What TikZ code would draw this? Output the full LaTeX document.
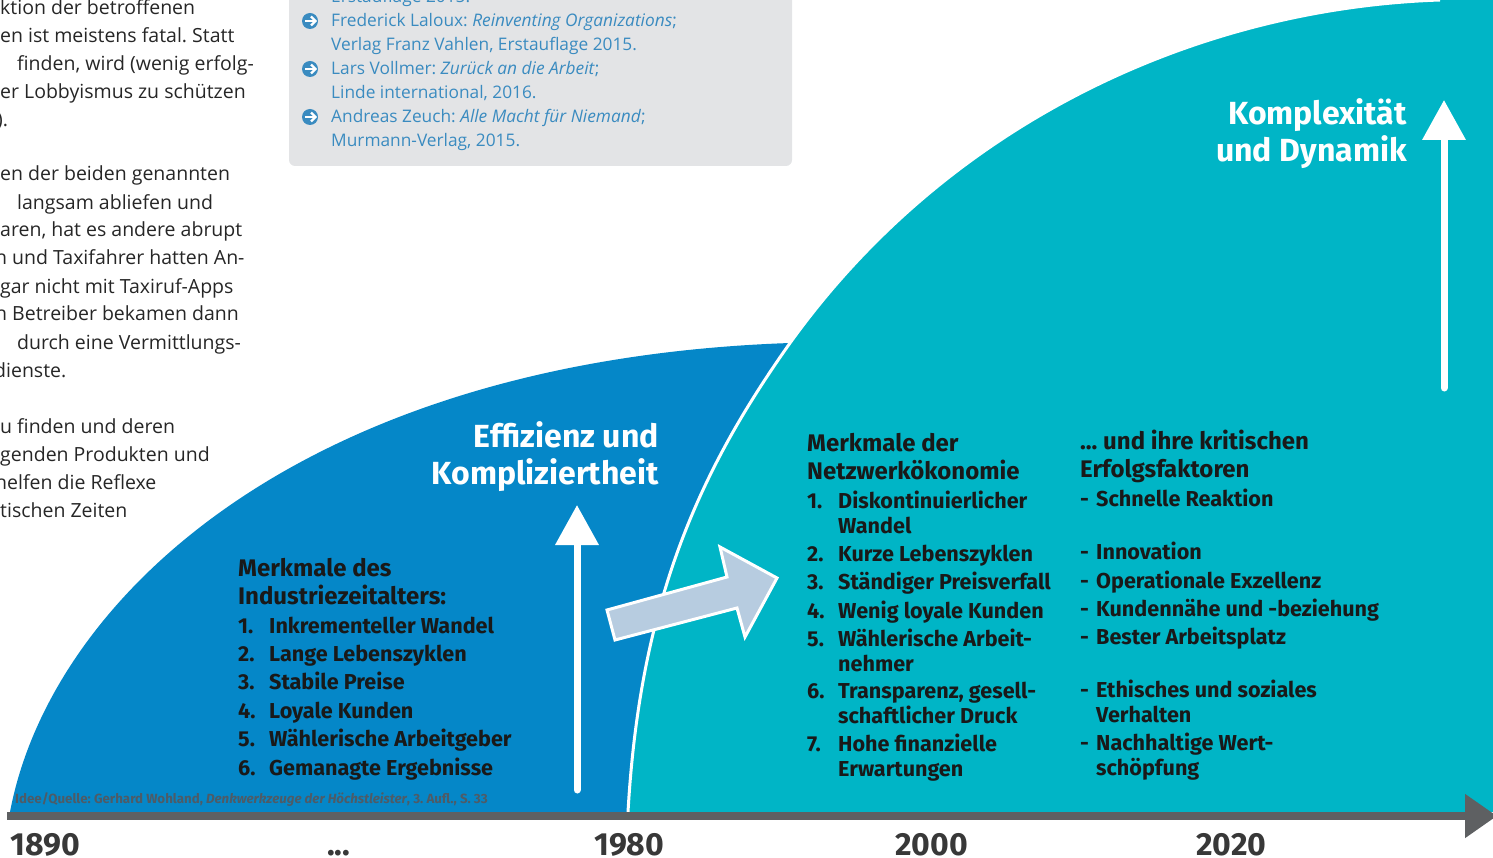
\documentclass[tikz,border=0pt]{standalone}
\usepackage{fontspec}
\setmainfont{Open Sans}
\newfontfamily\diafont{Fira Sans}
\usetikzlibrary{arrows.meta}
\frenchspacing

\definecolor{dunkelblau}{HTML}{0587C8}
\definecolor{tuerkis}{HTML}{00B5C6}
\definecolor{hellblau}{HTML}{B7CCE0}
\definecolor{achsgrau}{HTML}{5E6062}
\definecolor{kastengrau}{HTML}{E3E4E6}
\definecolor{linkblau}{HTML}{3A8BC0}
\definecolor{quellgrau}{HTML}{4E5B66}

\begin{document}
\begin{tikzpicture}[x=1pt,y=-1pt]
	% mehrzeilige Knoten: Position = Grundlinie der letzten Zeile
	\tikzstyle{fliess} = [anchor=base west,inner sep=0,align=left,font=\fontsize{19.5}{28}\selectfont,text=black!85]
	\tikzstyle{buch} = [anchor=base west,inner sep=0,align=left,font=\fontsize{17.3}{24}\selectfont,text=linkblau]
	\tikzstyle{kopf} = [anchor=base west,inner sep=0,align=left,font=\diafont\bfseries\fontsize{24}{28}\selectfont,text=black!90]
	\tikzstyle{punkt} = [anchor=base west,inner sep=0,align=left,font=\diafont\bfseries\fontsize{21.6}{25}\selectfont,text=black!90]
	\tikzstyle{titel} = [anchor=base east,inner sep=0,align=right,font=\diafont\bfseries\fontsize{32}{37}\selectfont,text=white]
	\tikzstyle{jahr} = [anchor=base west,inner sep=0,font=\diafont\bfseries\fontsize{32}{32}\selectfont,text=black!78]
	\tikzstyle{quelle} = [anchor=base west,inner sep=0,font=\diafont\bfseries\fontsize{13.3}{13}\selectfont,text=quellgrau]
	\tikzstyle{pfeil} = [draw=white,line width=7,line cap=round,-{Triangle[width=42pt,length=40pt]}]
	\tikzstyle{achse} = [draw=achsgrau,line width=8,-{Triangle[width=42pt,length=32pt]}]

	\useasboundingbox (0,0) rectangle (1493,858);

	% Textspalte links (angeschnitten)
	\node[fliess] (p1) at (0,127) {ktion der betroffenen\\en ist meistens fatal. Statt\\\hspace*{17pt}finden, wird (wenig erfolg-\\er Lobbyismus zu schützen\\\hspace*{-3pt}).};
	\node[fliess] (p2) at (0,377) {en der beiden genannten\\\hspace*{17pt}langsam abliefen und\\aren, hat es andere abrupt\\\hspace*{-5pt}n und Taxifahrer hatten An-\\gar nicht mit Taxiruf-Apps\\\hspace*{-5pt}n Betreiber bekamen dann\\\hspace*{17pt}durch eine Vermittlungs-\\\hspace*{-6pt}dienste.};
	\node[fliess] (p3) at (0,517) {u finden und deren\\genden Produkten und\\\hspace*{-5pt}helfen die Reflexe\\tischen Zeiten};

	% Literaturkasten
	\fill[kastengrau,rounded corners=6] (289,-10) rectangle (792,166);
	\foreach \y in {21,69,117}{
		\fill[linkblau] (310,\y) circle (8);
		\draw[white,line width=2.2] (305,\y) -- (315,\y);
		\draw[white,line width=2.2,line join=miter] (311,\y-4.5) -- (315.5,\y) -- (311,\y+4.5);
	}
	\node[buch] (b0) at (331,3) {Erstauflage 2015.};
	\node[buch] (b1) at (331,51) {Frederick Laloux: \textit{Reinventing Organizations};\\Verlag Franz Vahlen, Erstauflage 2015.};
	\node[buch] (b2) at (331,99) {Lars Vollmer: \textit{Zurück an die Arbeit};\\Linde international, 2016.};
	\node[buch] (b3) at (331,147) {Andreas Zeuch: \textit{Alle Macht für Niemand};\\Murmann-Verlag, 2015.};

	% Flaechen
	\fill[dunkelblau] (10,812) .. controls (50,600) and (300,360) .. (790,343) -- (790,812) -- cycle;
	\fill[tuerkis] (628,812) .. controls (640,600) and (700,470) .. (790,343) .. controls (950,120) and (1200,8) .. (1440,0) -- (1493,0) -- (1493,812) -- cycle;
	\draw[white,line width=3] (628,812) .. controls (640,600) and (700,470) .. (790,343) .. controls (950,120) and (1200,8) .. (1440,0);

	% Uebergangspfeil
	\filldraw[fill=hellblau,draw=white,line width=3,line join=miter] (607,610) -- (727,577) -- (720,547) -- (777,578) -- (745,637) -- (737,608) -- (615,640) -- cycle;

	% Pfeile nach oben
	\coordinate (e0) at (577,790);
	\coordinate (e1) at (577,505);
	\coordinate (k0) at (1444,388);
	\coordinate (k1) at (1444,100);
	\draw[pfeil] (e0) -- (e1);
	\draw[pfeil] (k0) -- (k1);

	\node[titel] (eff) at (659,484) {Effizienz und\\Kompliziertheit};
	\node[titel] (kom) at (1407,162) {Komplexität\\und Dynamik};

	% Industriezeitalter
	\node[kopf] (ind) at (238,604) {Merkmale des\\Industriezeitalters:};
	\node[punkt] (i1) at (238,633) {1.};
	\node[punkt] (i1t) at (269,633) {Inkrementeller Wandel};
	\node[punkt] (i2) at (238,661) {2.};
	\node[punkt] (i2t) at (269,661) {Lange Lebenszyklen};
	\node[punkt] (i3) at (238,689) {3.};
	\node[punkt] (i3t) at (269,689) {Stabile Preise};
	\node[punkt] (i4) at (238,718) {4.};
	\node[punkt] (i4t) at (269,718) {Loyale Kunden};
	\node[punkt] (i5) at (238,746) {5.};
	\node[punkt] (i5t) at (269,746) {Wählerische Arbeitgeber};
	\node[punkt] (i6) at (238,775) {6.};
	\node[punkt] (i6t) at (269,775) {Gemanagte Ergebnisse};

	% Netzwerkoekonomie
	\node[kopf] (net) at (807,479) {Merkmale der\\Netzwerkökonomie};
	\node[punkt] (n1) at (807,508) {1.};
	\node[punkt] (n1t) at (838,533) {Diskontinuierlicher\\Wandel};
	\node[punkt] (n2) at (807,561) {2.};
	\node[punkt] (n2t) at (838,561) {Kurze Lebenszyklen};
	\node[punkt] (n3) at (807,589) {3.};
	\node[punkt] (n3t) at (838,589) {Ständiger Preisverfall};
	\node[punkt] (n4) at (807,618) {4.};
	\node[punkt] (n4t) at (838,618) {Wenig loyale Kunden};
	\node[punkt] (n5) at (807,646) {5.};
	\node[punkt] (n5t) at (838,671) {Wählerische Arbeit-\\nehmer};
	\node[punkt] (n6) at (807,698) {6.};
	\node[punkt] (n6t) at (838,723) {Transparenz, gesell-\\schaftlicher Druck};
	\node[punkt] (n7) at (807,751) {7.};
	\node[punkt] (n7t) at (838,776) {Hohe finanzielle\\Erwartungen};

	% Erfolgsfaktoren
	\node[kopf] (erf) at (1080,477) {... und ihre kritischen\\Erfolgsfaktoren};
	\node[punkt] (f1) at (1080,506) {-};
	\node[punkt] (f1t) at (1096,506) {Schnelle Reaktion};
	\node[punkt] (f2) at (1080,559) {-};
	\node[punkt] (f2t) at (1096,559) {Innovation};
	\node[punkt] (f3) at (1080,588) {-};
	\node[punkt] (f3t) at (1096,588) {Operationale Exzellenz};
	\node[punkt] (f4) at (1080,616) {-};
	\node[punkt] (f4t) at (1096,616) {Kundennähe und -beziehung};
	\node[punkt] (f5) at (1080,644) {-};
	\node[punkt] (f5t) at (1096,644) {Bester Arbeitsplatz};
	\node[punkt] (f6) at (1080,697) {-};
	\node[punkt] (f6t) at (1096,722) {Ethisches und soziales\\Verhalten};
	\node[punkt] (f7) at (1080,750) {-};
	\node[punkt] (f7t) at (1096,775) {Nachhaltige Wert-\\schöpfung};

	\node[quelle] (src) at (15,803) {Idee/Quelle: Gerhard Wohland, \textit{Denkwerkzeuge der Höchstleister}, 3. Aufl., S. 33};

	% Zeitachse
	\coordinate (t0) at (7,816);
	\coordinate (t1) at (1497,816);
	\draw[achse] (t0) -- (t1);
	\node[jahr] (y1) at (10,855) {1890};
	\node[jahr] (y2) at (327,855) {...};
	\node[jahr] (y3) at (594,855) {1980};
	\node[jahr] (y4) at (895,855) {2000};
	\node[jahr] (y5) at (1196,855) {2020};
\end{tikzpicture}
\end{document}
